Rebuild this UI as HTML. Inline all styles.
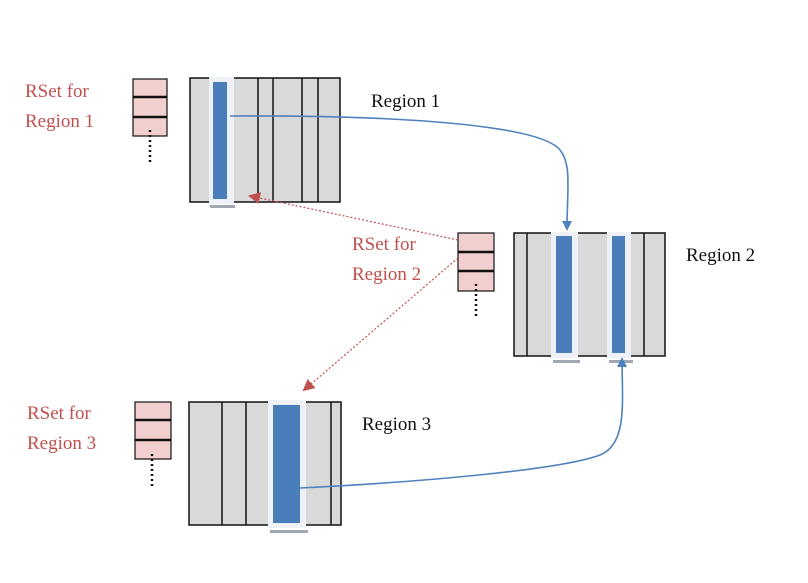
<!DOCTYPE html>
<html><head><style>
body{margin:0;background:#fff;width:808px;height:578px;overflow:hidden}
svg text{font-family:"Liberation Serif",serif;font-size:19px}
</style></head><body>
<svg width="808" height="578" viewBox="0 0 808 578" xmlns="http://www.w3.org/2000/svg">
<defs>
<marker id="ab" markerWidth="10" markerHeight="10" refX="8" refY="5" orient="auto" markerUnits="userSpaceOnUse"><path d="M0,0 L10,5 L0,10 z" fill="#4f81bd"/></marker>
<marker id="ar" markerWidth="12" markerHeight="12" refX="10" refY="6" orient="auto" markerUnits="userSpaceOnUse"><path d="M0,0 L12,6 L0,12 z" fill="#c0504d"/></marker>
</defs>
<!-- Region 1 -->
<rect x="190" y="78" width="150" height="124" fill="#d9d9d9" stroke="#111" stroke-width="1.5"/>
<g stroke="#111" stroke-width="1.5"><line x1="258" y1="78" x2="258" y2="202"/><line x1="273" y1="78" x2="273" y2="202"/><line x1="302" y1="78" x2="302" y2="202"/><line x1="318" y1="78" x2="318" y2="202"/></g>
<rect x="209" y="77" width="25" height="127" fill="#eef2f8"/>
<rect x="213" y="82" width="14" height="117" fill="#4a7ebb"/>
<rect x="210" y="205" width="25" height="3" fill="#a0a8b4"/>
<!-- RSet 1 -->
<rect x="133" y="79" width="34" height="57" fill="#f2cfcf" stroke="#111" stroke-width="1.2"/>
<line x1="133" y1="97" x2="167" y2="97" stroke="#111" stroke-width="2.5"/><line x1="133" y1="117" x2="167" y2="117" stroke="#111" stroke-width="2.5"/>
<line x1="150" y1="130" x2="150" y2="164" stroke="#111" stroke-width="2.5" stroke-dasharray="2,3"/>
<text x="25" y="97" fill="#c0504d">RSet for</text><text x="25" y="127" fill="#c0504d">Region 1</text>
<text x="371" y="107" fill="#111">Region 1</text>
<!-- Region 2 -->
<rect x="514" y="233" width="151" height="123" fill="#d9d9d9" stroke="#111" stroke-width="1.5"/>
<g stroke="#111" stroke-width="1.5"><line x1="527" y1="233" x2="527" y2="356"/><line x1="644" y1="233" x2="644" y2="356"/></g>
<rect x="551" y="232" width="27" height="126" fill="#eef2f8"/>
<rect x="556" y="236" width="16" height="117" fill="#4a7ebb"/>
<rect x="553" y="360" width="27" height="3" fill="#a0a8b4"/>
<rect x="607" y="232" width="24" height="126" fill="#eef2f8"/>
<rect x="612" y="236" width="13" height="117" fill="#4a7ebb"/>
<rect x="609" y="360" width="24" height="3" fill="#a0a8b4"/>
<rect x="458" y="233" width="36" height="58" fill="#f2cfcf" stroke="#111" stroke-width="1.2"/>
<line x1="458" y1="252" x2="494" y2="252" stroke="#111" stroke-width="2.5"/><line x1="458" y1="271" x2="494" y2="271" stroke="#111" stroke-width="2.5"/>
<line x1="476" y1="284" x2="476" y2="318" stroke="#111" stroke-width="2.5" stroke-dasharray="2,3"/>
<text x="352" y="250" fill="#c0504d">RSet for</text><text x="352" y="280" fill="#c0504d">Region 2</text>
<text x="686" y="261" fill="#111">Region 2</text>
<!-- Region 3 -->
<rect x="189" y="402" width="152" height="123" fill="#d9d9d9" stroke="#111" stroke-width="1.5"/>
<g stroke="#111" stroke-width="1.5"><line x1="222" y1="402" x2="222" y2="525"/><line x1="246" y1="402" x2="246" y2="525"/><line x1="331" y1="402" x2="331" y2="525"/></g>
<rect x="268" y="400" width="38" height="128" fill="#eef2f8"/>
<rect x="273" y="405" width="27" height="118" fill="#4a7ebb"/>
<rect x="270" y="530" width="38" height="3" fill="#a0a8b4"/>
<rect x="135" y="402" width="36" height="57" fill="#f2cfcf" stroke="#111" stroke-width="1.2"/>
<line x1="135" y1="420" x2="171" y2="420" stroke="#111" stroke-width="2.5"/><line x1="135" y1="440" x2="171" y2="440" stroke="#111" stroke-width="2.5"/>
<line x1="152" y1="454" x2="152" y2="488" stroke="#111" stroke-width="2.5" stroke-dasharray="2,3"/>
<text x="27" y="419" fill="#c0504d">RSet for</text><text x="27" y="449" fill="#c0504d">Region 3</text>
<text x="362" y="430" fill="#111">Region 3</text>
<!-- arrows -->
<path d="M230,116 C400,115 540,125 560,150 C572,165 567,190 567,229" fill="none" stroke="#4f81bd" stroke-width="1.6" marker-end="url(#ab)"/>
<path d="M300,488 C420,482 560,470 600,455 C628,444 622,400 622,359" fill="none" stroke="#4f81bd" stroke-width="1.6" marker-end="url(#ab)"/>
<line x1="458" y1="240" x2="250" y2="196" stroke="#c0504d" stroke-width="1.2" stroke-dasharray="2,2" marker-end="url(#ar)"/>
<line x1="458" y1="258" x2="304" y2="390" stroke="#c0504d" stroke-width="1.2" stroke-dasharray="2,2" marker-end="url(#ar)"/>
</svg>
</body></html>
